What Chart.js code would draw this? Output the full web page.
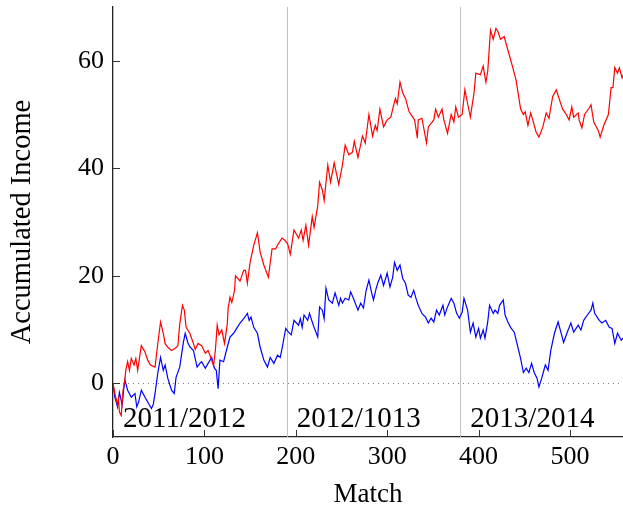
<!DOCTYPE html>
<html>
<head>
<meta charset="utf-8">
<script src="https://cdn.jsdelivr.net/npm/chart.js@4.4.1/dist/chart.umd.min.js"></script>
<style>
  html, body { margin: 0; padding: 0; background: #fff; }
  #wrap { width: 623px; height: 513px; }
</style>
</head>
<body>
<div id="wrap"><canvas id="c" width="623" height="513"></canvas></div>
<script>
// Accumulated income per match, two strategies (red and blue)
const redMatch = [0,2,5,6,7,9,11,13,14,16,18,20,23,25,27,31,35,38,41,46,49,52,55,57,60,64,68,71,73,76,78,80,84,88,90,93,97,101,104,107,110,112,114,116,119,122,125,126,128,130,133,134,139,143,145,147,150,154,158,161,165,170,174,178,181,185,188,191,194,198,203,206,208,211,214,218,220,224,226,229,231,235,238,242,247,251,254,258,262,264,268,273,276,280,284,287,289,292,296,300,304,306,309,311,314,317,320,324,328,330,333,334,338,343,345,351,353,356,360,362,366,370,373,375,378,382,385,388,391,395,397,402,405,408,410,413,416,419,421,424,428,432,437,441,446,449,451,454,457,463,466,470,474,477,481,485,488,492,496,499,502,504,509,510,513,516,521,523,526,531,533,537,542,545,547,549,552,554,557,559];
const redIncome = [0,-1.9,-4,-3,-5.3,-6,-1.3,0.6,2.4,4,2.4,4.6,3.4,4.6,2.4,7,5.8,4.3,3.4,3,7.4,11.4,9.3,7.4,6.7,6.1,6.5,7,11,14.5,13.6,10.4,9.3,7.4,6.3,7.4,7,5.6,6.1,4.8,3.3,6.1,10.8,9,9.9,7.4,11,14,16,15,17.3,20,19,21,21,18.6,22.5,25.7,28,24.4,22,19.7,25,25,26,27,26.6,26,24,28.5,27,28.5,26.6,29.4,25.7,31,29,33,37.4,36,34,40.6,37.4,41,37,40.6,44.3,42.5,43,45,42,46,44.7,50,46,48,47,51,47.7,49,49.5,51,53,52,56,54,53,50.5,49.5,49,45.6,49,49.3,44.7,47.7,49,51,49.5,51,49,46.5,50,48.6,51.4,49.5,50,54.6,52,49.5,54,57.7,57.4,59,56,58,65.7,64,66,65.5,64,64.5,62,59,56.4,51,50,50.5,48,50.3,46.7,45.8,47.5,50.3,49.3,53.3,54.6,53,51,50,49,51.4,49.5,50.3,49,47.5,50,51.2,51.8,48.6,47,45.8,48,50,55,55,58.7,57.7,58.7,56.8,57.7];

const blueMatch = [0,2,5,7,10,12,13,16,20,24,26,28,31,35,38,42,44,46,49,52,55,57,60,64,67,69,73,77,79,82,84,88,92,95,97,101,104,108,111,113,115,117,121,125,128,132,136,139,143,147,149,151,154,158,161,165,169,172,176,180,183,185,189,192,195,198,203,205,207,209,213,215,218,220,224,226,229,231,233,236,240,243,247,249,251,254,258,260,263,268,271,274,277,280,283,285,288,290,293,296,300,303,306,308,311,314,317,320,323,326,329,332,334,338,342,345,348,351,354,357,361,363,366,370,373,376,379,382,384,388,391,394,397,400,402,405,407,410,412,416,418,421,423,427,429,432,435,439,443,446,449,452,455,458,461,464,466,469,473,476,479,483,487,490,493,497,501,504,509,512,515,519,523,525,527,532,535,539,543,546,549,552,556,559];
const blueIncome = [0,-2.6,-4.4,-1.7,-4,-0.7,0.6,-1.3,-2.6,-1.9,-4.4,-3.5,-1.3,-2.6,-3.5,-4.7,-4,-1.9,1.9,4.8,2.4,3.4,0.9,-1.3,-1.9,1.1,3,7.6,9.3,7.5,6.8,6.1,3,3.7,4,2.8,3.7,4.8,2.8,2.4,-1,4.3,4,6.7,8.6,9.3,10.4,11.2,12,13,11.7,12.3,10.4,9.3,6.7,4.3,3,4.8,3.7,5.2,4.8,6.5,10.2,9.5,9,11.7,10.8,12,10.4,12.7,11.7,13,11.4,10.4,8.6,14.2,13.6,12,17.7,15.5,14.9,16.8,14.5,15.8,14.9,15.8,15.5,17,15.8,13.6,14.9,14,17.3,19.2,16.8,15.5,17.7,18.8,20.1,18.2,20.5,17.9,19.7,22.5,21,22,19.5,18.6,16.4,16,17.3,15.5,14.5,13,12.3,11.2,12.1,11.4,13.6,12.7,14.5,12.7,14.2,15.8,14.9,13,12.1,13.2,15.8,13.6,9.5,11.2,8.6,10.2,8.4,9.9,8.4,11.4,14.5,13,13.6,13,14.5,15.5,12.7,11.4,10.4,9.5,6.7,4.6,2,2.8,2,3.7,1.9,0.9,-0.7,0.9,3.4,2.4,6.1,9.3,11.4,9.5,7.6,9.5,11.2,9.5,10.8,9.9,11.7,12.7,13.6,14.9,13,11.7,11.2,11.7,10.4,10.2,7.4,9.3,8,8.6];

const xTicks = [0, 100, 200, 300, 400, 500];
const yTicks = [0, 20, 40, 60];
const seasonNames = ['2011/2012', '2012/1013', '2013/2014'];
const seasonStarts = [0, 190, 380];
const seasonBreaks = [190, 380];

const serif = '"Liberation Serif", "DejaVu Serif", serif';

function pairs(xs, ys) { return xs.map((x, i) => ({ x: x, y: ys[i] })); }

// Season separators, zero reference line, inner tick marks and season captions
const decorations = {
  id: 'decorations',
  beforeDatasetsDraw(chart) {
    const { ctx, chartArea: a, scales: { x, y } } = chart;
    ctx.save();
    ctx.strokeStyle = '#c0c0c0';
    ctx.lineWidth = 1;
    seasonBreaks.forEach(m => {
      const px = Math.round(x.getPixelForValue(m)) + 0.5;
      ctx.beginPath(); ctx.moveTo(px, a.top); ctx.lineTo(px, a.bottom); ctx.stroke();
    });
    const py0 = Math.round(y.getPixelForValue(0)) + 0.5;
    ctx.strokeStyle = '#808080';
    ctx.setLineDash([1, 4]);
    ctx.beginPath(); ctx.moveTo(a.left, py0); ctx.lineTo(a.right, py0); ctx.stroke();
    ctx.setLineDash([]);
    // inner ticks along the bottom and left axes
    ctx.strokeStyle = '#333';
    ctx.lineWidth = 1;
    xTicks.forEach(m => {
      const px = Math.round(x.getPixelForValue(m)) + 0.5;
      ctx.beginPath(); ctx.moveTo(px, a.bottom); ctx.lineTo(px, a.bottom - 7); ctx.stroke();
    });
    yTicks.forEach(v => {
      const py = Math.round(y.getPixelForValue(v)) + 0.5;
      ctx.beginPath(); ctx.moveTo(a.left, py); ctx.lineTo(a.left + 7, py); ctx.stroke();
    });
    ctx.restore();
  },
  afterDatasetsDraw(chart) {
    const { ctx, scales: { x, y } } = chart;
    ctx.save();
    ctx.fillStyle = '#000';
    ctx.font = '29px ' + serif;
    ctx.textAlign = 'left';
    ctx.textBaseline = 'alphabetic';
    seasonNames.forEach((s, i) => {
      ctx.fillText(s, x.getPixelForValue(seasonStarts[i] + 11), y.getPixelForValue(-8.2));
    });
    ctx.restore();
  }
};

new Chart(document.getElementById('c'), {
  type: 'line',
  data: {
    datasets: [
      { data: pairs(redMatch, redIncome), borderColor: '#ff0000', borderWidth: 1.2, pointRadius: 0, tension: 0, fill: false },
      { data: pairs(blueMatch, blueIncome), borderColor: '#0000ff', borderWidth: 1.2, pointRadius: 0, tension: 0, fill: false }
    ]
  },
  options: {
    responsive: false,
    animation: false,
    devicePixelRatio: 1,
    layout: { padding: { top: 7, right: 0, bottom: 0, left: 0 } },
    plugins: { legend: { display: false }, tooltip: { enabled: false } },
    scales: {
      x: {
        type: 'linear', min: 0, max: 558,
        afterBuildTicks: s => { s.ticks = xTicks.map(v => ({ value: v })); },
        afterFit: s => { s.height = 76; s.paddingLeft = 0; s.paddingRight = 0; },
        grid: { display: false, drawTicks: false },
        border: { display: true, color: '#222', width: 1.3 },
        ticks: { color: '#000', font: { family: serif, size: 26 }, padding: 5, maxRotation: 0 },
        title: { display: true, text: 'Match', color: '#000', font: { family: serif, size: 27, lineHeight: 1 }, padding: { bottom: 5 } }
      },
      y: {
        type: 'linear', min: -10, max: 70,
        afterBuildTicks: s => { s.ticks = yTicks.map(v => ({ value: v })); },
        afterFit: s => { s.width = 113; s.paddingTop = 0; s.paddingBottom = 0; },
        grid: { display: false, drawTicks: false },
        border: { display: true, color: '#222', width: 1.3 },
        ticks: { color: '#000', font: { family: serif, size: 26 }, padding: 9 },
        title: { display: true, text: 'Accumulated Income', color: '#000', font: { family: serif, size: 28.5, lineHeight: 1 }, padding: { top: 8 } }
      }
    }
  },
  plugins: [decorations]
});
</script>
</body>
</html>
